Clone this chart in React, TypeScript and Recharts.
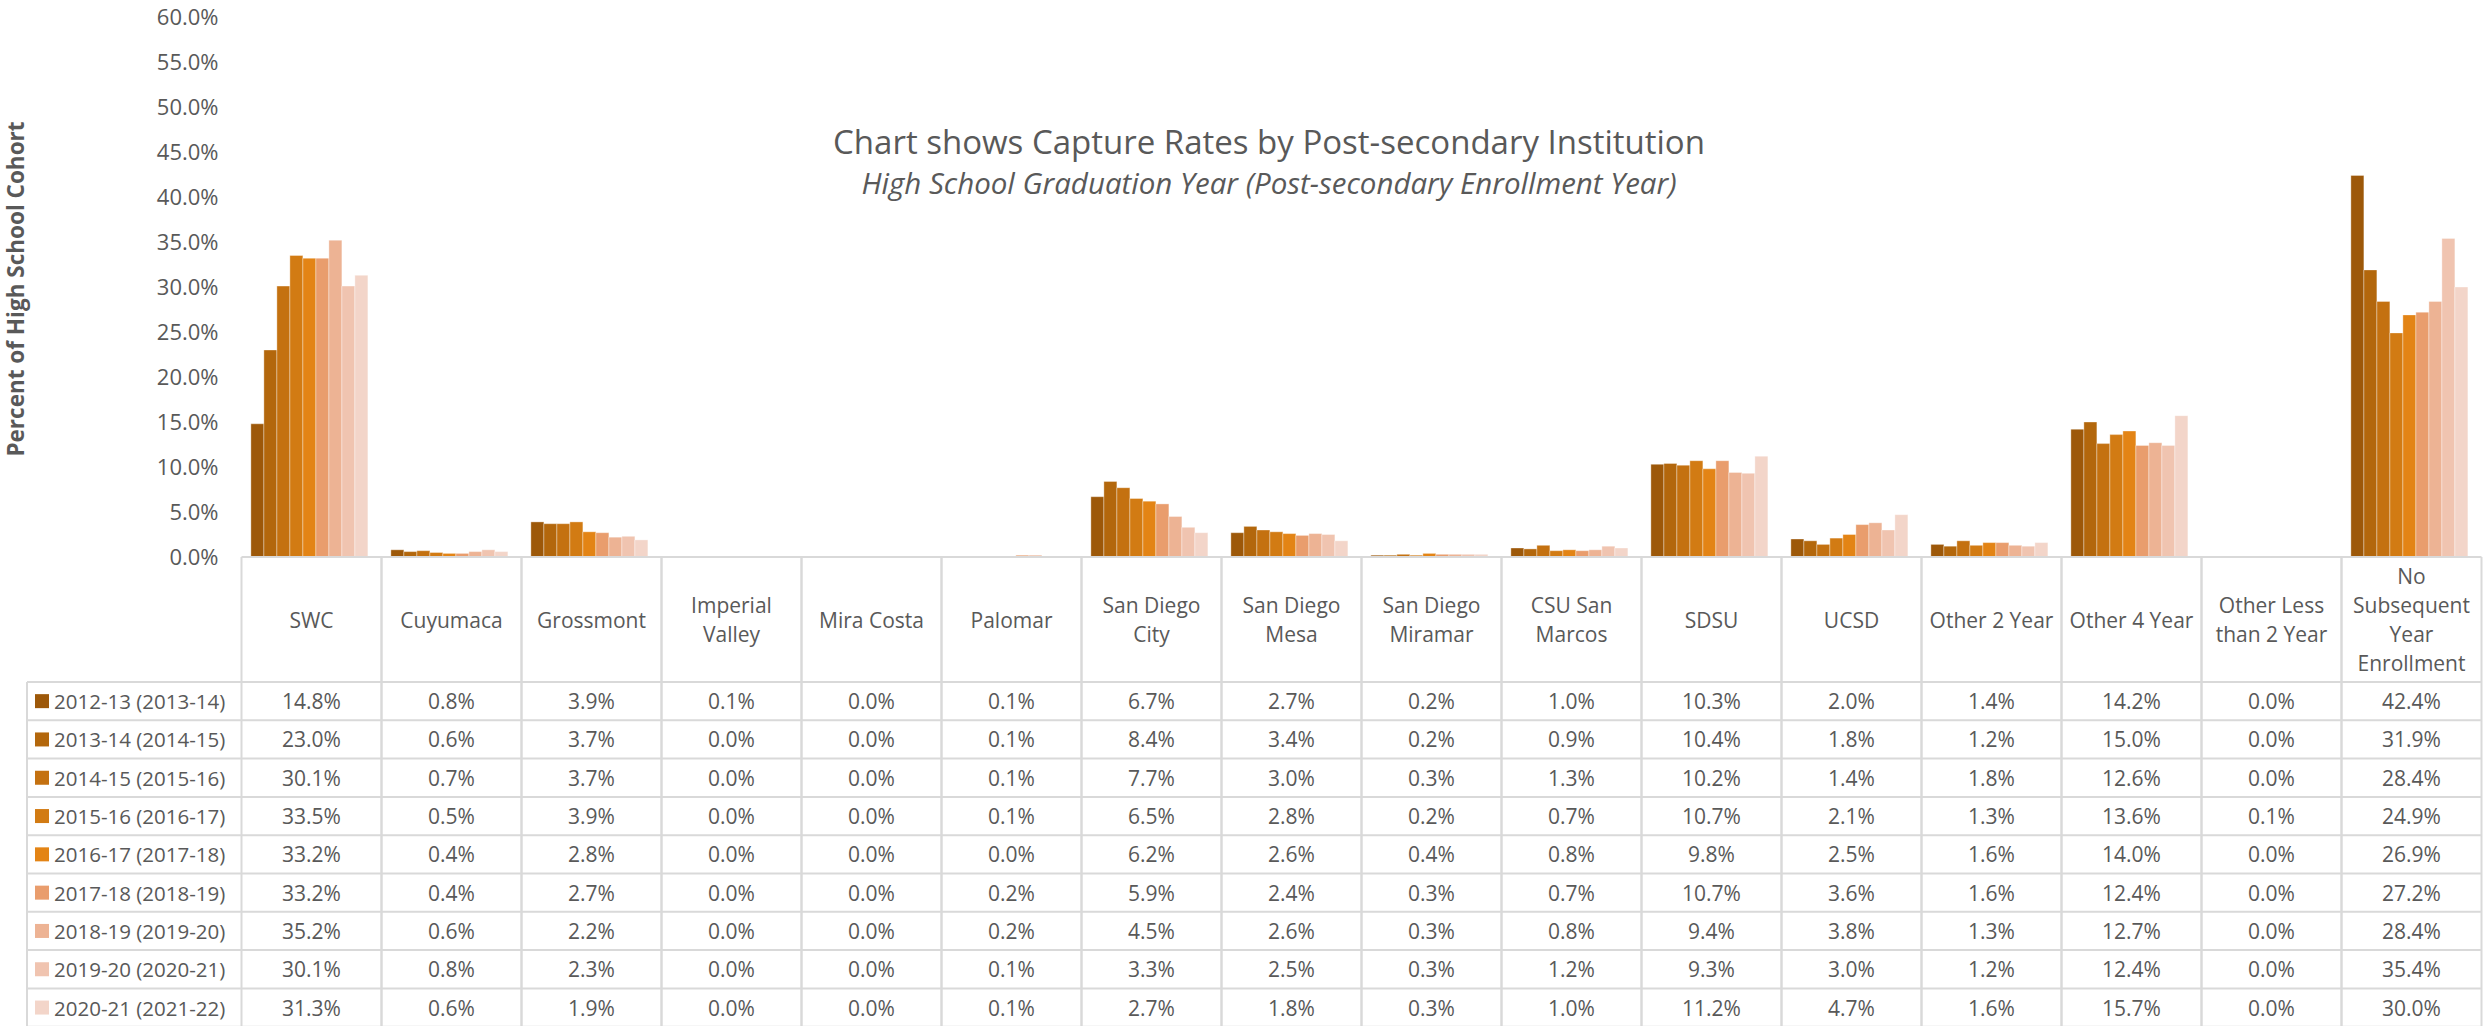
import React from "react";
import { Bar, BarChart, XAxis, YAxis } from "recharts";

const categories = [
  "SWC", "Cuyumaca", "Grossmont", "Imperial Valley", "Mira Costa", "Palomar",
  "San Diego City", "San Diego Mesa", "San Diego Miramar", "CSU San Marcos",
  "SDSU", "UCSD", "Other 2 Year", "Other 4 Year", "Other Less than 2 Year",
  "No Subsequent Year Enrollment",
];

const years = [
  "2012-13 (2013-14)", "2013-14 (2014-15)", "2014-15 (2015-16)", "2015-16 (2016-17)",
  "2016-17 (2017-18)", "2017-18 (2018-19)", "2018-19 (2019-20)", "2019-20 (2020-21)",
  "2020-21 (2021-22)",
];

const y2012 = [14.8, 0.8, 3.9, 0.1, 0.0, 0.1, 6.7, 2.7, 0.2, 1.0, 10.3, 2.0, 1.4, 14.2, 0.0, 42.4];
const y2013 = [23.0, 0.6, 3.7, 0.0, 0.0, 0.1, 8.4, 3.4, 0.2, 0.9, 10.4, 1.8, 1.2, 15.0, 0.0, 31.9];
const y2014 = [30.1, 0.7, 3.7, 0.0, 0.0, 0.1, 7.7, 3.0, 0.3, 1.3, 10.2, 1.4, 1.8, 12.6, 0.0, 28.4];
const y2015 = [33.5, 0.5, 3.9, 0.0, 0.0, 0.1, 6.5, 2.8, 0.2, 0.7, 10.7, 2.1, 1.3, 13.6, 0.1, 24.9];
const y2016 = [33.2, 0.4, 2.8, 0.0, 0.0, 0.0, 6.2, 2.6, 0.4, 0.8, 9.8, 2.5, 1.6, 14.0, 0.0, 26.9];
const y2017 = [33.2, 0.4, 2.7, 0.0, 0.0, 0.2, 5.9, 2.4, 0.3, 0.7, 10.7, 3.6, 1.6, 12.4, 0.0, 27.2];
const y2018 = [35.2, 0.6, 2.2, 0.0, 0.0, 0.2, 4.5, 2.6, 0.3, 0.8, 9.4, 3.8, 1.3, 12.7, 0.0, 28.4];
const y2019 = [30.1, 0.8, 2.3, 0.0, 0.0, 0.1, 3.3, 2.5, 0.3, 1.2, 9.3, 3.0, 1.2, 12.4, 0.0, 35.4];
const y2020 = [31.3, 0.6, 1.9, 0.0, 0.0, 0.1, 2.7, 1.8, 0.3, 1.0, 11.2, 4.7, 1.6, 15.7, 0.0, 30.0];

const seriesValues = [y2012, y2013, y2014, y2015, y2016, y2017, y2018, y2019, y2020];

const yTicks = [0, 5, 10, 15, 20, 25, 30, 35, 40, 45, 50, 55, 60];

const colors = [
  "#9D5809", "#B3670C", "#C47110", "#D27B13", "#E38415",
  "#E99D6D", "#EDB394", "#F0C4B0", "#F3D5C9",
];

const data = categories.map((name, ci) => {
  const row: Record<string, string | number> = { name };
  years.forEach((yr, si) => {
    row[yr] = seriesValues[si][ci];
  });
  return row;
});

// layout
const W = 2491;
const H = 1026;
const PLOT_LEFT = 241.5;
const PLOT_RIGHT = 2481.5;
const PLOT_TOP = 17;
const PLOT_BOTTOM = 557;
const HEADER_BOTTOM = 682;
const ROW_H = 38.3;
const LEGEND_LEFT = 27;
const BAND = (PLOT_RIGHT - PLOT_LEFT) / categories.length;
const GRID = "#D9D9D9";
const TEXT = "#595959";
const FONT = "'Open Sans', Lato, sans-serif";

const wrapLabel = (label: string, maxChars = 12) => {
  const words = label.split(" ");
  const lines: string[] = [];
  let cur = "";
  words.forEach((w) => {
    const next = cur ? cur + " " + w : w;
    if (next.length > maxChars && cur) {
      lines.push(cur);
      cur = w;
    } else {
      cur = next;
    }
  });
  if (cur) lines.push(cur);
  return lines;
};

const TableColumn = (props: any) => {
  const { x, payload } = props;
  const ci = payload.index;
  const left = x - BAND / 2;
  const right = x + BAND / 2;
  const lines = wrapLabel(categories[ci]);
  const headerMid = (PLOT_BOTTOM + HEADER_BOTTOM) / 2;
  const bottom = HEADER_BOTTOM + years.length * ROW_H;

  return (
    <g fontFamily={FONT} fill={TEXT}>
      {ci === 0 && (
        <g>
          <line x1={LEGEND_LEFT} x2={left} y1={HEADER_BOTTOM} y2={HEADER_BOTTOM} stroke={GRID} strokeWidth={2} />
          <line x1={LEGEND_LEFT} x2={LEGEND_LEFT} y1={HEADER_BOTTOM} y2={bottom} stroke={GRID} strokeWidth={2} />
          {years.map((yr, si) => {
            const top = HEADER_BOTTOM + si * ROW_H;
            return (
              <g key={yr}>
                <line x1={LEGEND_LEFT} x2={left} y1={top + ROW_H} y2={top + ROW_H} stroke={GRID} strokeWidth={2} />
                <rect x={35} y={top + ROW_H / 2 - 7} width={14} height={14} fill={colors[si]} />
                <text x={54} y={top + ROW_H / 2} dominantBaseline="central" fontSize={20.5}>
                  {yr}
                </text>
              </g>
            );
          })}
        </g>
      )}
      <line x1={left} x2={left} y1={PLOT_BOTTOM} y2={bottom} stroke={GRID} strokeWidth={2} />
      <line x1={right} x2={right} y1={PLOT_BOTTOM} y2={bottom} stroke={GRID} strokeWidth={2} />
      <line x1={left} x2={right} y1={HEADER_BOTTOM} y2={HEADER_BOTTOM} stroke={GRID} strokeWidth={2} />
      <text textAnchor="middle" fontSize={21}>
        {lines.map((ln, li) => (
          <tspan key={li} x={x} y={headerMid + (li - (lines.length - 1) / 2) * 29} dominantBaseline="central">
            {ln}
          </tspan>
        ))}
      </text>
      {years.map((yr, si) => {
        const top = HEADER_BOTTOM + si * ROW_H;
        return (
          <g key={yr}>
            <line x1={left} x2={right} y1={top + ROW_H} y2={top + ROW_H} stroke={GRID} strokeWidth={2} />
            <text x={x} y={top + ROW_H / 2} textAnchor="middle" dominantBaseline="central" fontSize={21}>
              {seriesValues[si][ci].toFixed(1) + "%"}
            </text>
          </g>
        );
      })}
    </g>
  );
};

const YLabel = (props: any) => {
  const { viewBox } = props;
  const cy = viewBox.y + viewBox.height / 2 + 2;
  return (
    <text
      x={15}
      y={cy}
      transform={`rotate(-90, 15, ${cy})`}
      textAnchor="middle"
      dominantBaseline="central"
      fontFamily={FONT}
      fontWeight={700}
      fontSize={22.5}
      fill={TEXT}
    >
      Percent of High School Cohort
    </text>
  );
};

export default function App() {
  return (
    <div style={{ position: "absolute", left: 0, top: 0, width: W, height: H, background: "#fff" }}>
      <BarChart
        width={W}
        height={H}
        data={data}
        margin={{ top: PLOT_TOP, right: W - PLOT_RIGHT, left: 0, bottom: 0 }}
        barCategoryGap="6.7%"
        barGap={0}
      >
        <XAxis
          dataKey="name"
          height={H - PLOT_BOTTOM}
          axisLine={{ stroke: GRID, strokeWidth: 2 }}
          tickLine={false}
          tickSize={0}
          interval={0}
          tick={<TableColumn />}
        />
        <YAxis
          width={PLOT_LEFT}
          domain={[0, 60]}
          ticks={yTicks}
          axisLine={false}
          tickLine={false}
          tickSize={0}
          tickMargin={23}
          tick={{ fill: TEXT, fontSize: 22, fontFamily: FONT }}
          tickFormatter={(v: number) => `${v.toFixed(1)}%`}
          label={<YLabel />}
        />
        {years.map((yr, si) => (
          <Bar
            key={yr}
            dataKey={yr}
            fill={colors[si]}
            stroke="#ffffff"
            strokeOpacity={0.35}
            strokeWidth={1}
            isAnimationActive={false}
          />
        ))}
      </BarChart>
      <div
        style={{
          position: "absolute",
          left: 0,
          width: 2538,
          top: 119,
          textAlign: "center",
          fontFamily: FONT,
          color: TEXT,
        }}
      >
        <div style={{ fontSize: 33, lineHeight: "46px" }}>
          Chart shows Capture Rates by Post-secondary Institution
        </div>
        <div style={{ fontSize: 29.5, lineHeight: "36px", fontStyle: "italic" }}>
          High School Graduation Year (Post-secondary Enrollment Year)
        </div>
      </div>
    </div>
  );
}
